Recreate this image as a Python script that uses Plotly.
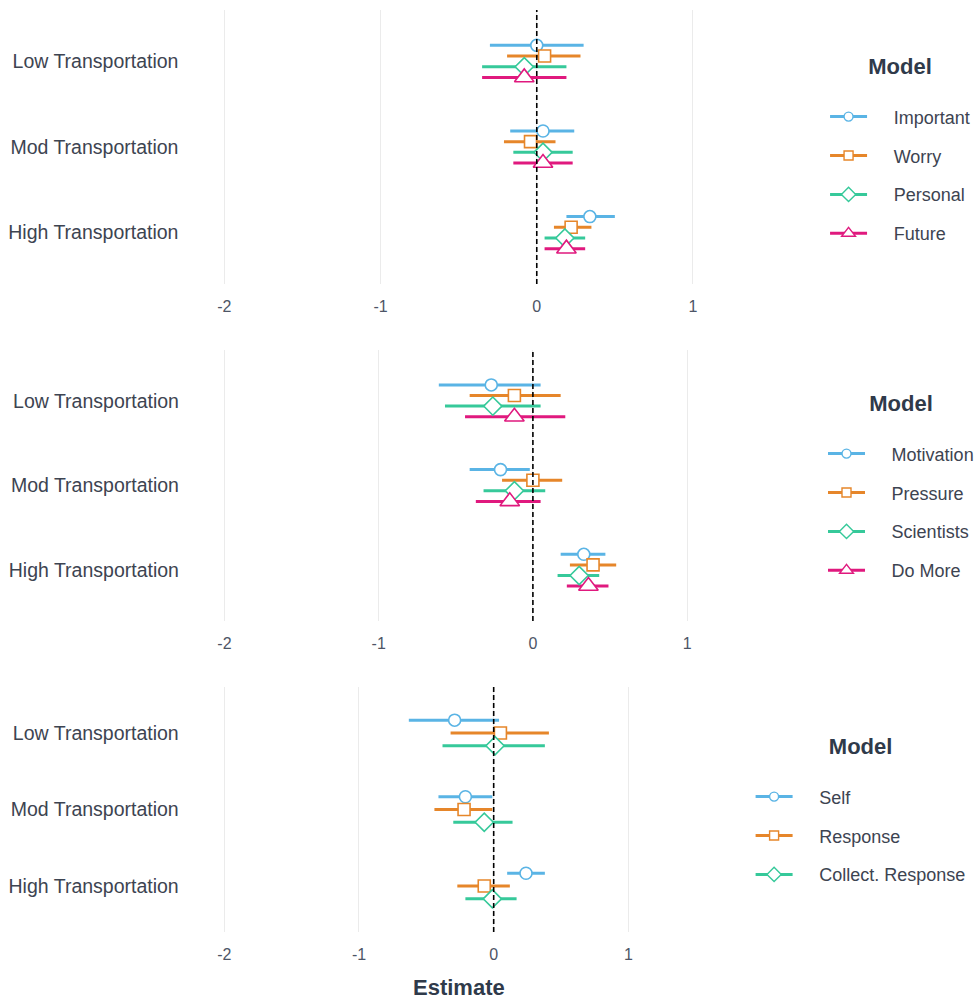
import plotly.graph_objects as go

# ---------------- data ----------------
groups = ["Low Transportation", "Mod Transportation", "High Transportation"]

p1_models = ["Important", "Worry", "Personal", "Future"]
p1_est = {"Important": [0.00, 0.04, 0.34], "Worry": [0.05, -0.04, 0.22],
          "Personal": [-0.08, 0.04, 0.18], "Future": [-0.08, 0.04, 0.19]}
p1_lo = {"Important": [-0.30, -0.17, 0.19], "Worry": [-0.19, -0.21, 0.11],
         "Personal": [-0.35, -0.15, 0.05], "Future": [-0.35, -0.15, 0.05]}
p1_hi = {"Important": [0.30, 0.24, 0.50], "Worry": [0.28, 0.12, 0.35],
         "Personal": [0.19, 0.23, 0.31], "Future": [0.19, 0.23, 0.31]}

p2_models = ["Motivation", "Pressure", "Scientists", "Do More"]
p2_est = {"Motivation": [-0.27, -0.21, 0.33], "Pressure": [-0.12, 0.00, 0.39],
          "Scientists": [-0.26, -0.12, 0.30], "Do More": [-0.12, -0.15, 0.36]}
p2_lo = {"Motivation": [-0.61, -0.41, 0.18], "Pressure": [-0.41, -0.20, 0.24],
         "Scientists": [-0.57, -0.32, 0.16], "Do More": [-0.44, -0.37, 0.22]}
p2_hi = {"Motivation": [0.05, -0.02, 0.47], "Pressure": [0.18, 0.19, 0.54],
         "Scientists": [0.05, 0.08, 0.43], "Do More": [0.21, 0.05, 0.49]}

p3_models = ["Self", "Response", "Collect. Response"]
p3_est = {"Self": [-0.29, -0.21, 0.24], "Response": [0.05, -0.22, -0.07],
          "Collect. Response": [0.01, -0.07, -0.01]}
p3_lo = {"Self": [-0.63, -0.41, 0.10], "Response": [-0.32, -0.44, -0.27],
         "Collect. Response": [-0.38, -0.30, -0.21]}
p3_hi = {"Self": [0.04, -0.01, 0.38], "Response": [0.41, -0.01, 0.12],
         "Collect. Response": [0.38, 0.14, 0.17]}

x_ticks = [-2, -1, 0, 1]

# ---------------- style ----------------
COLORS = ["#5AB4E5", "#E6862A", "#36C99A", "#E0197E"]
SYMBOLS = ["circle", "square", "diamond", "triangle-up"]
SIZES = [12, 12, 14, 17]
LEG_SIZES = [9, 9, 11, 12]
TEXT = "#3D4451"
FONT = "Liberation Sans, Arial, sans-serif"
W, H = 979, 1000
PAD = "\u2002\u2002\u2009"

panels = [
    dict(models=p1_models, est=p1_est, lo=p1_lo, hi=p1_hi,
         xpx=(186.7, 839.5), ypx=(10, 284), legend_xy=(831, 49), ticklen=2),
    dict(models=p2_models, est=p2_est, lo=p2_lo, hi=p2_hi,
         xpx=(187.2, 831.9), ypx=(350, 621), legend_xy=(829, 386), ticklen=2),
    dict(models=p3_models, est=p3_est, lo=p3_lo, hi=p3_hi,
         xpx=(192, 755), ypx=(687, 932), legend_xy=(756, 729), ticklen=7),
]

fig = go.Figure()
group_pos = [3, 2, 1]
dodge = 0.5

for pi, p in enumerate(panels):
    sfx = "" if pi == 0 else str(pi + 1)
    xa, ya = "x" + sfx, "y" + sfx
    leg = "legend" + sfx
    n = len(p["models"])
    step = dodge / n
    # ranges (CI lines) first
    for i, m in enumerate(p["models"]):
        off = ((n - 1) / 2 - i) * step
        xs, ys = [], []
        for g, lo, hi in zip(group_pos, p["lo"][m], p["hi"][m]):
            xs += [lo, hi, None]
            ys += [g + off, g + off, None]
        fig.add_trace(go.Scatter(x=xs, y=ys, mode="lines", xaxis=xa, yaxis=ya,
                                 line=dict(color=COLORS[i], width=3),
                                 showlegend=False, hoverinfo="skip"))
    # points
    for i, m in enumerate(p["models"]):
        off = ((n - 1) / 2 - i) * step
        ys = [g + off for g in group_pos]
        fig.add_trace(go.Scatter(
            x=p["est"][m], y=ys, mode="markers", name=m, xaxis=xa, yaxis=ya,
            showlegend=False,
            marker=dict(symbol=SYMBOLS[i], size=SIZES[i], color="white",
                        line=dict(color=COLORS[i], width=1.6))))
    # legend entries (pointrange key)
    for i, m in enumerate(p["models"]):
        fig.add_trace(go.Scatter(
            x=[None], y=[None], mode="lines+markers", name=PAD + m,
            xaxis=xa, yaxis=ya, legend=leg, legendgroup=f"{pi}-{m}",
            line=dict(color=COLORS[i], width=3),
            marker=dict(symbol=SYMBOLS[i], size=LEG_SIZES[i], color="white",
                        line=dict(color=COLORS[i], width=1.4))))

    x0, x1 = p["xpx"]
    y0, y1 = p["ypx"]
    fig.update_layout(**{
        "xaxis" + sfx: dict(
            domain=[x0 / W, x1 / W], range=[-2.25, 1.9], anchor=ya,
            tickvals=x_ticks, ticktext=[str(v) for v in x_ticks],
            showgrid=True, gridcolor="#EBEBEB", gridwidth=1, zeroline=False,
            showline=False, ticks="outside", ticklen=8, tickcolor="rgba(0,0,0,0)",
            tickfont=dict(size=16, color="#4D5566", family=FONT),
            automargin=False),
        "yaxis" + sfx: dict(
            domain=[1 - y1 / H, 1 - y0 / H], range=[0.4, 3.6], anchor=xa,
            tickvals=group_pos, ticktext=groups, showgrid=False, zeroline=False,
            showline=False, ticks="outside", ticklen=p["ticklen"],
            tickcolor="rgba(0,0,0,0)",
            tickfont=dict(size=19.5, color=TEXT, family=FONT), automargin=False),
        leg: dict(
            x=p["legend_xy"][0] / W, y=1 - p["legend_xy"][1] / H,
            xanchor="left", yanchor="top", bgcolor="rgba(0,0,0,0)",
            font=dict(size=18, color=TEXT, family=FONT),
            title=dict(text="<span style='font-size:22px'><b>Model</b></span><br> ",
                       side="top center",
                       font=dict(size=19, color="#2F3A4A", family=FONT)),
            tracegroupgap=12.5, itemwidth=37),
    })
    fig.add_shape(type="line", xref=xa, yref=ya + " domain", x0=0, x1=0, y0=0, y1=1,
                  line=dict(color="black", width=1.6, dash="5px,3px"), layer="above")

fig.add_annotation(text="<b>Estimate</b>", xref="paper", yref="paper",
                   x=462 / W, y=1 - 987 / H, xanchor="center", yanchor="middle",
                   showarrow=False, font=dict(size=22, color="#2F3A4A", family=FONT))

fig.update_layout(width=W, height=H, margin=dict(l=0, r=0, t=0, b=0),
                  template="none", plot_bgcolor="white", paper_bgcolor="white",
                  font=dict(family=FONT, color=TEXT))

fig.write_html("out.html", config={"displayModeBar": False},
               post_script="document.body.style.margin='0';")
